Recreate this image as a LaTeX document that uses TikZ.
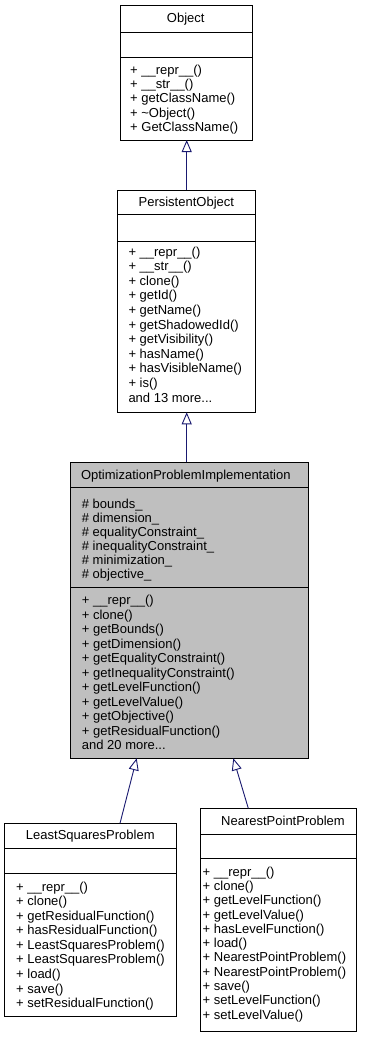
\documentclass[tikz,border=0pt]{standalone}
\usepackage{fontspec}
\setmainfont{Liberation Sans}
\usepackage{xcolor}
\usetikzlibrary{arrows.meta}
\definecolor{navyline}{HTML}{191970}
\definecolor{shade}{HTML}{BFBFBF}
\newcommand{\moredots}{...}
\tikzset{
  >=Latex,
  every node/.style={font=\fontsize{13}{15}\selectfont,text=black},
  classbox/.style={draw=black,line width=0.9pt,fill=white,inner sep=0pt,outer sep=0pt,anchor=north west},
  focusbox/.style={classbox,fill=shade},
  sep/.style={draw=black,line width=0.9pt},
  classtitle/.style={anchor=base,inner sep=0pt},
  member/.style={anchor=base west,inner sep=0pt},
  inherit/.style={-{Triangle[open,length=12pt,width=10pt]},draw=navyline,line width=0.9pt},
}

\begin{document}
\begin{tikzpicture}[x=1pt,y=-1pt]
  \fill[white] (0,0) rectangle (372,1037);
  \useasboundingbox (0,0) rectangle (372,1037);

  % Object
  \node[classbox,minimum width=132pt,minimum height=135pt] (obj) at (120.7,5) {};
  \draw[sep] ([yshift=-27pt]obj.north west) -- ([yshift=-27pt]obj.north east);
  \draw[sep] ([yshift=-52pt]obj.north west) -- ([yshift=-52pt]obj.north east);
  \node[classtitle] (obj-t) at (185.7,22.5) {Object};
  \foreach \m [count=\i from 0] in {+ \_\_repr\_\_(),+ \_\_str\_\_(),+ getClassName(),+ \textasciitilde Object(),+ GetClassName()}
    \node[member] (obj-m\i) at (130,{74.5+14.2*\i}) {\m};

  % PersistentObject
  \node[classbox,minimum width=137.3pt,minimum height=222.3pt] (pobj) at (117.7,190) {};
  \draw[sep] ([yshift=-24.3pt]pobj.north west) -- ([yshift=-24.3pt]pobj.north east);
  \draw[sep] ([yshift=-51pt]pobj.north west) -- ([yshift=-51pt]pobj.north east);
  \node[classtitle] (pobj-t) at (186.3,206) {PersistentObject};
  \foreach \m [count=\i from 0] in {+ \_\_repr\_\_(),+ \_\_str\_\_(),+ clone(),+ getId(),+ getName(),+ getShadowedId(),+ getVisibility(),+ hasName(),+ hasVisibleName(),+ is(),and 13 more\moredots}
    \node[member] (pobj-m\i) at (128.3,{256+14.6*\i}) {\m};

  % OptimizationProblemImplementation
  \node[focusbox,minimum width=238.3pt,minimum height=296pt] (opi) at (70,462.3) {};
  \draw[sep] ([yshift=-25pt]opi.north west) -- ([yshift=-25pt]opi.north east);
  \draw[sep] ([yshift=-125pt]opi.north west) -- ([yshift=-125pt]opi.north east);
  \node[classtitle] (opi-t) at (185.8,479.5) {OptimizationProblemImplementation};
  \foreach \a [count=\i from 0] in {\# bounds\_,\# dimension\_,\# equalityConstraint\_,\# inequalityConstraint\_,\# minimization\_,\# objective\_}
    \node[member] (opi-a\i) at (81.7,{508.5+13.9*\i}) {\a};
  \foreach \m [count=\i from 0] in {+ \_\_repr\_\_(),+ clone(),+ getBounds(),+ getDimension(),+ getEqualityConstraint(),+ getInequalityConstraint(),+ getLevelFunction(),+ getLevelValue(),+ getObjective(),+ getResidualFunction(),and 20 more\moredots}
    \node[member] (opi-m\i) at (81.7,{604.5+14.5*\i}) {\m};

  % LeastSquaresProblem
  \node[classbox,minimum width=171.3pt,minimum height=193.4pt] (lsp) at (4.7,823.3) {};
  \draw[sep] ([yshift=-25pt]lsp.north west) -- ([yshift=-25pt]lsp.north east);
  \draw[sep] ([yshift=-50pt]lsp.north west) -- ([yshift=-50pt]lsp.north east);
  \node[classtitle] (lsp-t) at (90.3,839.5) {LeastSquaresProblem};
  \foreach \m [count=\i from 0] in {+ \_\_repr\_\_(),+ clone(),+ getResidualFunction(),+ hasResidualFunction(),+ LeastSquaresProblem(),+ LeastSquaresProblem(),+ load(),+ save(),+ setResidualFunction()}
    \node[member] (lsp-m\i) at (16,{891+14.58*\i}) {\m};

  % NearestPointProblem
  \node[classbox,minimum width=156pt,minimum height=222.7pt] (npp) at (200.7,808.3) {};
  \draw[sep] ([yshift=-25.7pt]npp.north west) -- ([yshift=-25.7pt]npp.north east);
  \draw[sep] ([yshift=-50pt]npp.north west) -- ([yshift=-50pt]npp.north east);
  \node[classtitle] (npp-t) at (283,825.5) {NearestPointProblem};
  \foreach \m [count=\i from 0] in {+ \_\_repr\_\_(),+ clone(),+ getLevelFunction(),+ getLevelValue(),+ hasLevelFunction(),+ load(),+ NearestPointProblem(),+ NearestPointProblem(),+ save(),+ setLevelFunction(),+ setLevelValue()}
    \node[member] (npp-m\i) at (202.5,{876+14.33*\i}) {\m};

  % inheritance
  \draw[inherit] (pobj.north -| obj.south) -- (obj.south);
  \draw[inherit] (opi.north -| obj.south) -- (pobj.south -| obj.south);
  \draw[inherit] ([xshift=115.3pt]lsp.north west) -- ([xshift=66.7pt]opi.south west);
  \draw[inherit] ([xshift=47.6pt]npp.north west) -- ([xshift=163.3pt]opi.south west);
\end{tikzpicture}
\end{document}
